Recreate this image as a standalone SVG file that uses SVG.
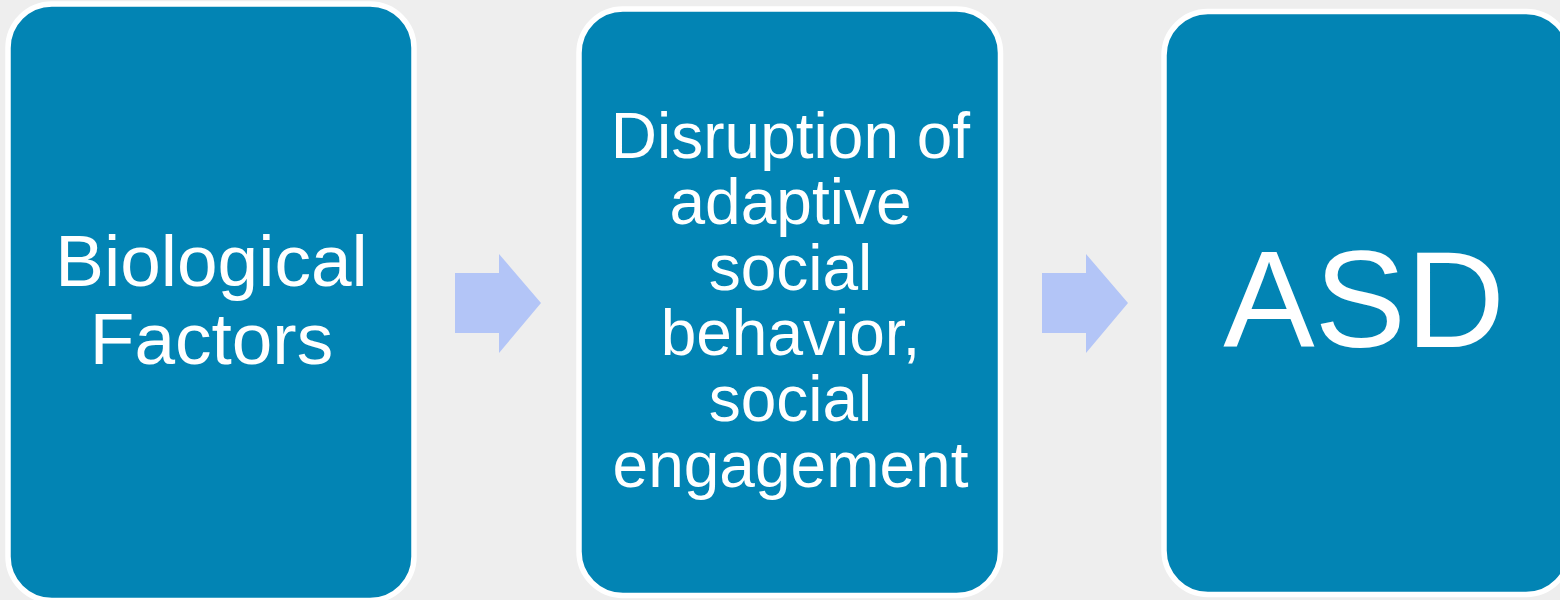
<svg xmlns="http://www.w3.org/2000/svg" width="1560" height="600" viewBox="0 0 1560 600">
  <style>
    .box { fill: #0284b4; stroke: #ffffff; stroke-width: 5.5; }
    .arrow { fill: #b3c5f7; }
    .label { fill: #ffffff; font-family: "Liberation Sans", Arial, sans-serif; text-anchor: middle; }
    .big { font-size: 73px; }
    .mid { font-size: 64px; }
  </style>
  <rect x="0" y="0" width="1560" height="600" fill="#eeeeee"/>

  <g id="node-biological">
    <rect class="box" x="8" y="4" width="406" height="596.5" rx="44" ry="44"/>
    <text class="label big" x="211.5" y="286">Biological</text>
    <text class="label big" x="211.5" y="364">Factors</text>
  </g>

  <g id="node-disruption">
    <rect class="box" x="579" y="9" width="421.5" height="586.5" rx="44" ry="44"/>
    <text class="label mid" x="790.5" y="158">Disruption of</text>
    <text class="label mid" x="790.5" y="223.8">adaptive</text>
    <text class="label mid" x="790.5" y="289.6">social</text>
    <text class="label mid" x="790.5" y="355.4">behavior,</text>
    <text class="label mid" x="790.5" y="421.2">social</text>
    <text class="label mid" x="790.5" y="487">engagement</text>
  </g>

  <g id="node-asd">
    <rect class="box" x="1164" y="11.5" width="406" height="583" rx="44" ry="44"/>
    <text class="label" font-size="137" x="1364" y="346.5">ASD</text>
  </g>

  <g id="connectors">
    <polygon class="arrow" points="455,273 499,273 499,254 541,303 499,353 499,333 455,333"/>
    <polygon class="arrow" points="1042,273 1086,273 1086,254 1128,303 1086,353 1086,333 1042,333"/>
  </g>
</svg>
